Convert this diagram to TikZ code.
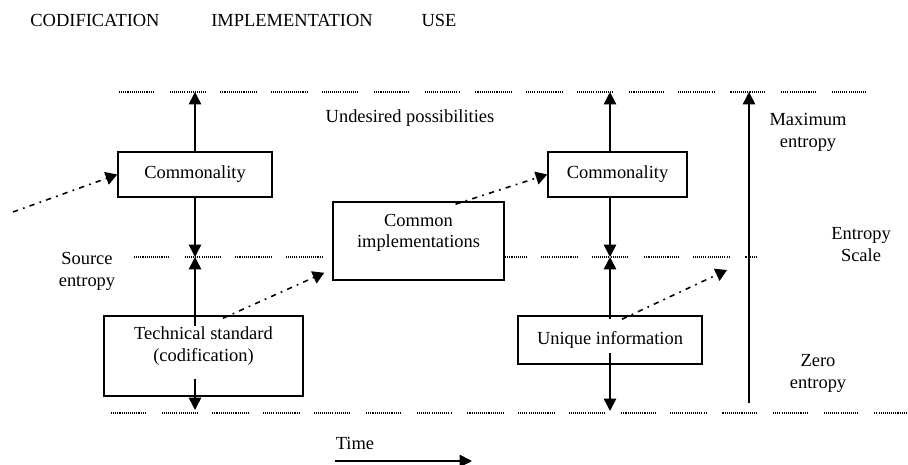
\documentclass[tikz,border=0pt]{standalone}
\usepackage{fontspec}
\setmainfont{Liberation Serif}
\usetikzlibrary{arrows.meta,calc}

\tikzset{
  box/.style={draw, fill=white, line width=0.9pt, align=center, inner sep=2pt},
  arr/.style={-{Triangle[length=7pt,width=7pt]}, line width=0.9pt},
  flow/.style={-{Triangle[length=6.5pt,width=7.5pt]}, line width=0.9pt, dash pattern=on 3pt off 3pt on 1pt off 3pt},
  level/.style={draw=black, line width=0.6pt, dash pattern=on 21pt off 8pt,
    postaction={draw=white, line width=0.9pt, dash pattern=on 0.6pt off 0.6pt}},
  lbl/.style={align=center, inner sep=0pt}
}

\begin{document}
\begin{tikzpicture}[x=0.02cm, y=-0.02cm, font=\fontsize{10.5}{12.5}\selectfont]
\useasboundingbox (0,0) rectangle (908,465);

% headings
\node[lbl] (hcod) at (95,20) {CODIFICATION};
\node[lbl] (himp) at (292,20) {IMPLEMENTATION};
\node[lbl] (huse) at (439,20) {USE};

% entropy levels
\coordinate (maxA) at (118,92);
\coordinate (maxB) at (870,92);
\coordinate (srcA) at (133,257);
\coordinate (srcB) at (758,257);
\coordinate (zeroA) at (110,413);
\coordinate (zeroB) at (908,413);
\draw[level] (maxA) -- (maxB);
\draw[level] (srcA) -- (srcB);
\draw[level] (zeroA) -- (zeroB);

% boxes
\node[box, minimum width=3.08cm, minimum height=0.9cm] (comL) at (195,174.5) {Commonality};
\node[box, minimum width=3.42cm, minimum height=1.56cm] (impl) at (418.5,241) {Common\\implementations\\[-1pt]\mbox{}};
\node[box, minimum width=2.78cm, minimum height=0.9cm] (comR) at (617.5,174.5) {Commonality};
\node[box, minimum width=3.98cm, minimum height=1.6cm] (tech) at (203.5,356) {Technical standard\\(codification)\\[1.5pt]\mbox{}};
\node[box, minimum width=3.68cm, minimum height=0.96cm] (uniq) at (610,340) {Unique information};

% texts
\node[lbl] (undes) at (410,118) {Undesired possibilities};
\node[lbl] (srcent) at (87,271) {Source\\entropy};
\node[lbl] (maxent) at (808,132) {Maximum\\entropy};
\node[lbl] (scale) at (861,245) {Entropy\\Scale};
\node[lbl] (zeroent) at (818,373) {Zero\\entropy};
\node[lbl] (time) at (355,443) {Time};

% codification column
\draw[arr] (comL.north) -- (comL.north |- maxA);
\draw[arr] (comL.south) -- (comL.south |- srcA);
\draw[arr] ($(tech.north -| comL)+(0,11)$) -- (comL |- srcA);
\draw[arr] ($(tech.south -| comL)+(0,-18)$) -- ($(comL |- zeroA)+(0,-3)$);

% use column
\draw[arr] (comR.north -| uniq) -- (uniq |- maxA);
\draw[arr] (comR.south -| uniq) -- (uniq |- srcA);
\draw[arr] ($(uniq.north)+(0,4)$) -- (uniq |- srcA);
\draw[arr] ($(uniq.south)+(0,-12)$) -- ($(uniq |- zeroA)+(0,-2)$);

% entropy scale
\coordinate (scaleB) at (749,403);
\draw[arr] (scaleB) -- (scaleB |- maxA);

% flows
\coordinate (inflow) at (13,212);
\coordinate (upflow) at (727,270);
\draw[flow] (inflow) -- (comL.west);
\draw[flow] ($(tech.north)+(19.5,3)$) -- ($(impl.south west)+(-8,-8)$);
\draw[flow] ($(impl.north)+(37,3)$) -- (comR.west);
\draw[flow] ($(uniq.north)+(12,4)$) -- (upflow);

% time
\coordinate (timeA) at (335,461);
\coordinate (timeB) at (472,461);
\draw[arr] (timeA) -- (timeB);
\end{tikzpicture}
\end{document}
